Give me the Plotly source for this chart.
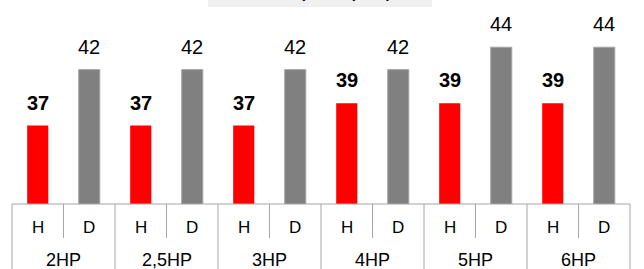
import plotly.graph_objects as go

groups = ["2HP", "2,5HP", "3HP", "4HP", "5HP", "6HP"]
sub_labels = ["H", "D"]
h_vals = [37, 37, 37, 39, 39, 39]
d_vals = [42, 42, 42, 42, 44, 44]
title_text = "Sound power (dBA)"

cats = [f"{g}|{s}" for g in groups for s in sub_labels]
h_x = [f"{g}|H" for g in groups]
d_x = [f"{g}|D" for g in groups]
n = len(cats)

FONT = "Arial, Liberation Sans, sans-serif"
LINE = "#a6a6a6"

fig = go.Figure()
fig.add_trace(go.Bar(x=h_x, y=h_vals, marker=dict(color="#ff0000", line=dict(width=0)),
                     width=0.41, name="H"))
fig.add_trace(go.Bar(x=d_x, y=d_vals, marker=dict(color="#808080", line=dict(color="#a6a6a6", width=1)),
                     width=0.41, name="D"))

ann = []
for x, v in zip(h_x, h_vals):
    ann.append(dict(x=x, y=v, xref="x", yref="y", text=f"<b>{v}</b>", showarrow=False,
                    yanchor="middle", yshift=23, font=dict(size=20, color="#000", family=FONT)))
for x, v in zip(d_x, d_vals):
    ann.append(dict(x=x, y=v, xref="x", yref="y", text=str(v), showarrow=False,
                    yanchor="middle", yshift=23, font=dict(size=20, color="#000", family=FONT)))
# sub labels
for c in cats:
    ann.append(dict(x=c, y=-0.1176, xref="x", yref="paper", text=c.split("|")[1], showarrow=False,
                    yanchor="middle", font=dict(size=17, color="#000", family=FONT)))
# group labels
for i, g in enumerate(groups):
    ann.append(dict(x=(2 * i + 1) / n, y=-0.275, xref="paper", yref="paper", text=g, showarrow=False,
                    xanchor="center", yanchor="middle", font=dict(size=18, color="#000", family=FONT)))
# title (mostly cut off at the top)
ann.append(dict(x=0.5, y=1.0, xref="paper", yref="paper", text=f"<b>{title_text}</b>", showarrow=False,
                xanchor="center", yanchor="bottom", yshift=-3, font=dict(size=15, color="#000", family=FONT)))

shapes = []
shapes.append(dict(type="rect", xref="paper", yref="paper", x0=196 / 618, x1=420 / 618,
                   y0=1 - 7 / 204, y1=1.05, fillcolor="#f0f0f0", line=dict(width=0), layer="below"))
for k in range(n + 1):
    if k % 2 == 0:
        y1 = -0.33
    else:
        y1 = -34 / 204
    shapes.append(dict(type="line", xref="paper", yref="paper", x0=k / n, x1=k / n, y0=0, y1=y1,
                       line=dict(color=LINE, width=1)))
shapes.append(dict(type="line", xref="paper", yref="paper", x0=0, x1=1, y0=0, y1=0,
                   line=dict(color=LINE, width=1)))

fig.update_layout(
    width=644, height=269,
    margin=dict(l=12, r=14, t=0, b=65),
    paper_bgcolor="white", plot_bgcolor="white",
    barmode="overlay", showlegend=False,
    xaxis=dict(type="category", categoryorder="array", categoryarray=cats, range=[-0.5, n - 0.5],
               showticklabels=False, showgrid=False, zeroline=False, showline=False, ticks=""),
    yaxis=dict(range=[30, 30 + 204 / 11.2], visible=False, fixedrange=True),
    annotations=ann, shapes=shapes,
    font=dict(family=FONT),
)

fig.write_html("out.html", config={"displayModeBar": False},
               post_script="document.body.style.margin='0';document.body.style.overflow='hidden';")
